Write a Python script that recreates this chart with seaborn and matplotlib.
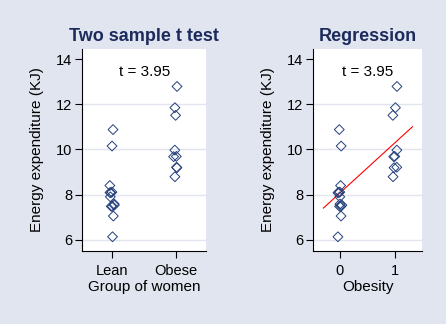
import numpy as np
import pandas as pd
import matplotlib
matplotlib.use("Agg")
import matplotlib.pyplot as plt
import seaborn as sns

# Energy expenditure (KJ) for lean and obese women
lean = [6.13, 7.05, 7.48, 7.48, 7.53, 7.58, 7.90, 8.08, 8.09, 8.11, 8.40, 10.15, 10.88]
obese = [8.79, 9.19, 9.21, 9.68, 9.69, 9.97, 11.51, 11.85, 12.79]
groups = ["Lean", "Obese"]
obesity_codes = [0, 1]
y_ticks = [6, 8, 10, 12, 14]
t_label = "t = 3.95"
titles = ["Two sample t test", "Regression"]
x_labels = ["Group of women", "Obesity"]
y_label = "Energy expenditure (KJ)"

df = pd.DataFrame({
    "group": [groups[0]] * len(lean) + [groups[1]] * len(obese),
    "obesity": [obesity_codes[0]] * len(lean) + [obesity_codes[1]] * len(obese),
    "energy": lean + obese,
})

sns.set_style("ticks")
plt.rcParams["font.family"] = ["Liberation Sans", "DejaVu Sans"]
plt.rcParams["text.color"] = "black"
plt.rcParams["axes.labelcolor"] = "black"
plt.rcParams["xtick.labelcolor"] = "black"
plt.rcParams["ytick.labelcolor"] = "black"

BG = "#e1e5f0"
GRID = "#e1e5f0"
NAVY = "#24407c"
TITLE = "#1c2a5c"

fig = plt.figure(figsize=(4.46, 3.24), dpi=100, facecolor=BG)
ax1 = fig.add_axes([0.1845, 0.2253, 0.2774, 0.6235])
ax2 = fig.add_axes([0.7025, 0.2253, 0.2437, 0.6235])

np.random.seed(3)
sns.stripplot(data=df, x="group", y="energy", order=groups, jitter=0.04,
              marker="D", size=5, linewidth=0.7, ax=ax1)
np.random.seed(7)
sns.stripplot(data=df, x="obesity", y="energy", native_scale=True, jitter=0.04,
              marker="D", size=5, linewidth=0.7, ax=ax2)

slope, intercept = np.polyfit(df["obesity"], df["energy"], 1)
xs = np.array([-0.3, 1.32])
ax2.plot(xs, intercept + slope * xs, color="red", lw=0.8, zorder=1)

for ax, title, xl in zip([ax1, ax2], titles, x_labels):
    for coll in ax.collections:
        coll.set_facecolor("none")
        coll.set_edgecolor(NAVY)
        coll.set_zorder(3)
    ax.set_facecolor("white")
    ax.set_ylim(5.5, 14.45)
    ax.set_yticks(y_ticks)
    for y in y_ticks[:-1]:
        ax.axhline(y, color=GRID, lw=1.0, zorder=0)
    ax.set_title(title, fontsize=13, fontweight="bold", color=TITLE, pad=6)
    ax.set_xlabel(xl, fontsize=11, labelpad=1.5)
    ax.set_ylabel(y_label, fontsize=11, labelpad=9)
    ax.tick_params(axis="both", direction="out", length=5, width=0.8,
                   color="black", labelsize=10.5, pad=2)
    ax.tick_params(axis="x", pad=4)
    for side in ["top", "right"]:
        ax.spines[side].set_visible(False)
    for side in ["left", "bottom"]:
        ax.spines[side].set_color("black")
        ax.spines[side].set_linewidth(0.8)
    ax.text(0.5, 13.45, t_label, ha="center", va="center", fontsize=11,
            color="black")

ax1.set_xlim(-0.47, 1.47)
ax1.set_xticks([0, 1])
ax1.set_xticklabels(groups)
ax2.set_xlim(-0.48, 1.49)
ax2.set_xticks(obesity_codes)
ax2.set_xticklabels([str(c) for c in obesity_codes])

fig.savefig("out.png", dpi=100, facecolor=BG)
